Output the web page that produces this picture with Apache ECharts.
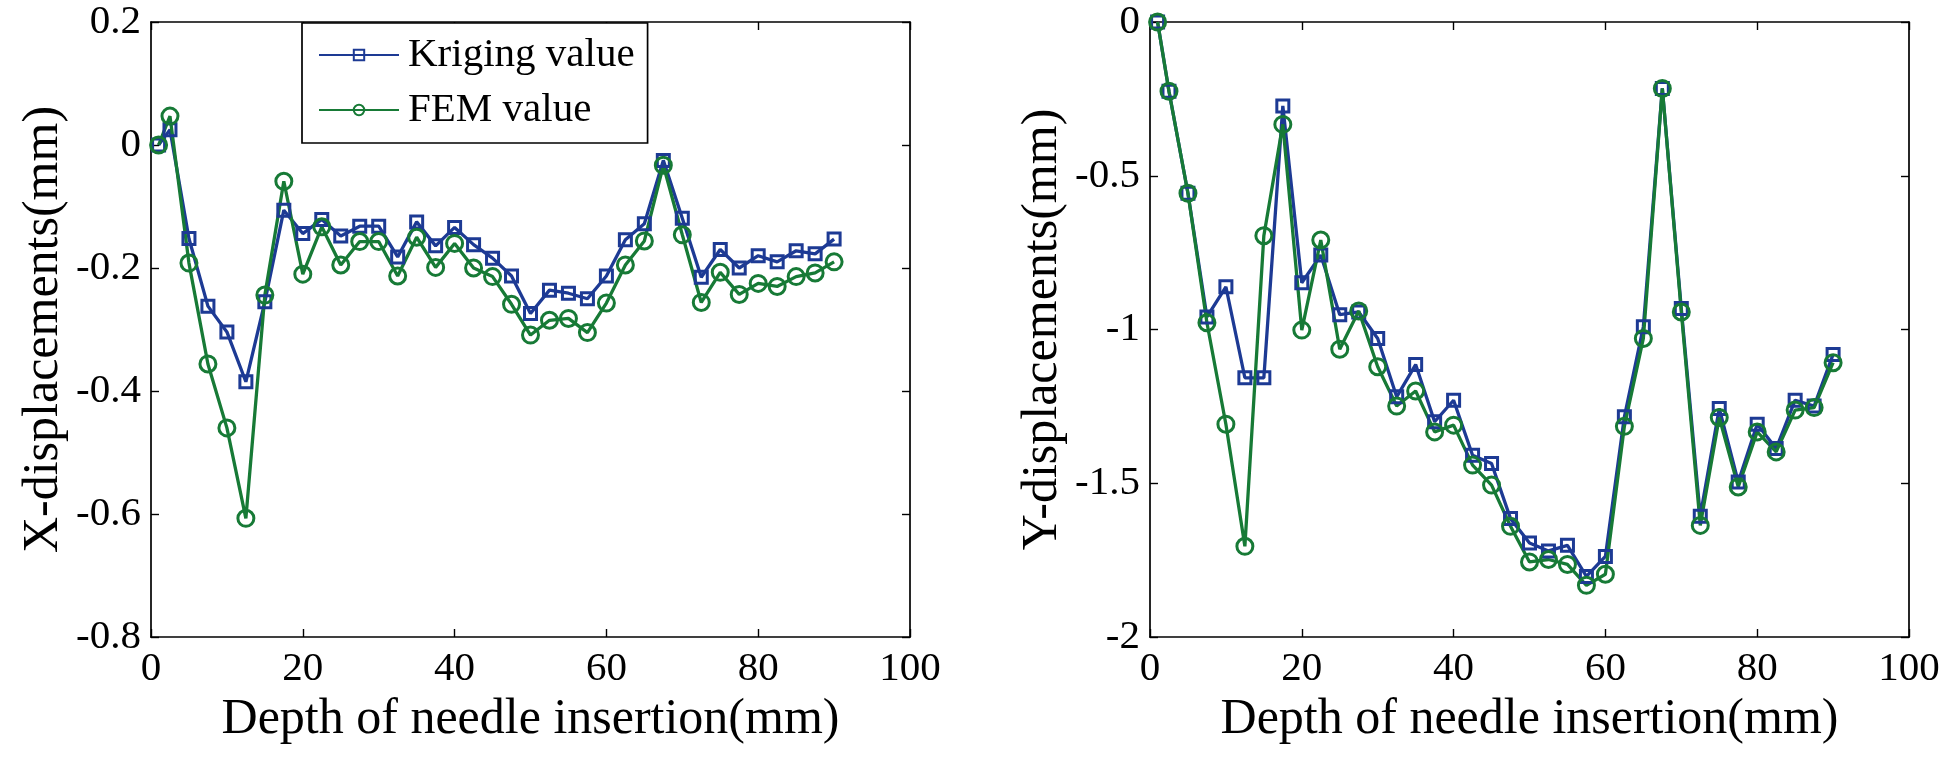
<!DOCTYPE html>
<html>
<head>
<meta charset="utf-8">
<script src="https://cdn.jsdelivr.net/npm/echarts@6/dist/echarts.min.js"></script>
<style>
html,body{margin:0;padding:0;background:#fff;}
#chart{width:1960px;height:765px;}
</style>
</head>
<body>
<div id="chart"></div>
<script>
// ---- data ----
var depth = [1,2.5,5,7.5,10,12.5,15,17.5,20,22.5,25,27.5,30,32.5,35,37.5,40,42.5,45,47.5,50,52.5,55,57.5,60,62.5,65,67.5,70,72.5,75,77.5,80,82.5,85,87.5,90];

var xKriging = [0,0.025,-0.152,-0.262,-0.304,-0.385,-0.255,-0.106,-0.144,-0.121,-0.148,-0.132,-0.132,-0.182,-0.125,-0.164,-0.134,-0.162,-0.184,-0.213,-0.274,-0.236,-0.241,-0.250,-0.213,-0.154,-0.128,-0.025,-0.119,-0.215,-0.170,-0.200,-0.180,-0.190,-0.172,-0.177,-0.153];
var xFEM = [0,0.047,-0.192,-0.356,-0.460,-0.607,-0.244,-0.059,-0.210,-0.133,-0.195,-0.157,-0.157,-0.213,-0.150,-0.199,-0.160,-0.200,-0.214,-0.259,-0.309,-0.285,-0.282,-0.305,-0.257,-0.195,-0.156,-0.033,-0.146,-0.256,-0.207,-0.243,-0.225,-0.230,-0.214,-0.208,-0.190];

var yKriging = [0,-0.225,-0.557,-0.959,-0.861,-1.157,-1.157,-0.273,-0.848,-0.758,-0.952,-0.943,-1.029,-1.219,-1.114,-1.300,-1.230,-1.409,-1.436,-1.615,-1.694,-1.720,-1.702,-1.803,-1.738,-1.284,-0.991,-0.216,-0.932,-1.607,-1.257,-1.496,-1.308,-1.387,-1.230,-1.249,-1.081];
var yFEM = [0,-0.225,-0.557,-0.978,-1.308,-1.705,-0.695,-0.333,-1.002,-0.709,-1.064,-0.940,-1.121,-1.249,-1.200,-1.333,-1.311,-1.441,-1.506,-1.640,-1.756,-1.748,-1.764,-1.832,-1.796,-1.315,-1.029,-0.216,-0.943,-1.637,-1.286,-1.512,-1.333,-1.398,-1.262,-1.254,-1.108];

var seriesNames = ['Kriging value','FEM value'];
var xAxisTitle = 'Depth of needle insertion(mm)';
var leftYTitle = 'X-displacements(mm)';
var rightYTitle = 'Y-displacements(mm)';
var xRange = {min:0, max:100, interval:20};
var leftYRange = {min:-0.8, max:0.2, interval:0.2};
var rightYRange = {min:-2, max:0, interval:0.5};

// ---- styling ----
var FONT = 'Liberation Serif';
var BLUE = '#1d3a94';
var GREEN = '#177a36';
var tickFont = 41;
var titleFont = 50;

function pairs(xs, ys){ return xs.map(function(x,i){ return [x, ys[i]]; }); }
function tickFmt(v){ return '{t|' + String(Number(Number(v).toFixed(3))) + '}'; }
var tickRich = {t:{fontFamily:FONT, fontSize:tickFont, color:'#000'}};

function axisBase(){
  return {
    axisLine:{show:true, onZero:false, lineStyle:{color:'#000', width:1.7}},
    axisTick:{show:true, inside:true, length:8, lineStyle:{color:'#000', width:1.4}},
    splitLine:{show:false}
  };
}
function xAxisMain(grid){
  return Object.assign(axisBase(), {
    type:'value', gridIndex:grid, position:'bottom',
    min:xRange.min, max:xRange.max, interval:xRange.interval,
    name:xAxisTitle, nameLocation:'middle', nameGap:57,
    nameTextStyle:{fontFamily:FONT, fontSize:titleFont, color:'#000'},
    axisLabel:{show:true, margin:12, fontFamily:FONT, fontSize:tickFont, color:'#000', formatter:tickFmt, rich:tickRich}
  });
}
function xAxisTop(grid){
  return Object.assign(axisBase(), {
    type:'value', gridIndex:grid, position:'top',
    min:xRange.min, max:xRange.max, interval:xRange.interval,
    axisLabel:{show:false}
  });
}
function yAxisMain(grid, r, title){
  return Object.assign(axisBase(), {
    type:'value', gridIndex:grid, position:'left',
    min:r.min, max:r.max, interval:r.interval,
    name:title, nameLocation:'middle', nameGap:82, nameRotate:90,
    nameTextStyle:{fontFamily:FONT, fontSize:titleFont, color:'#000'},
    axisLabel:{show:true, margin:10, fontFamily:FONT, fontSize:tickFont, color:'#000', formatter:tickFmt, rich:tickRich}
  });
}
function yAxisRight(grid, r){
  return Object.assign(axisBase(), {
    type:'value', gridIndex:grid, position:'right',
    min:r.min, max:r.max, interval:r.interval,
    axisLabel:{show:false}
  });
}
function lineSeries(name, xi, yi, data, color, symbol, size){
  return {
    type:'line', name:name, xAxisIndex:xi, yAxisIndex:yi, data:data,
    symbol:symbol, symbolSize:size, showAllSymbol:true,
    lineStyle:{color:color, width:3.3},
    itemStyle:{color:'rgba(255,255,255,0)', borderColor:color, borderWidth:3},
    emphasis:{disabled:true}
  };
}

var chart = echarts.init(document.getElementById('chart'), null, {renderer:'canvas'});
chart.setOption({
  backgroundColor:'#fff',
  animation:false,
  textStyle:{fontFamily:FONT, color:'#000'},
  grid:[
    {left:151, top:22, width:759, height:615},
    {left:1150, top:22, width:759, height:615}
  ],
  xAxis:[xAxisMain(0), xAxisTop(0), xAxisMain(1), xAxisTop(1)],
  yAxis:[yAxisMain(0, leftYRange, leftYTitle), yAxisRight(0, leftYRange), yAxisMain(1, rightYRange, rightYTitle), yAxisRight(1, rightYRange)],
  legend:{
    data:seriesNames, orient:'vertical', left:302, top:23,
    padding:[9,13,10,16], itemGap:9, itemWidth:80, itemHeight:13,
    borderColor:'#000', borderWidth:1.7, backgroundColor:'#fff',
    textStyle:{fontFamily:FONT, fontSize:41, color:'#000', lineHeight:46, padding:[0,0,0,4]}
  },
  series:[
    lineSeries(seriesNames[0], 0, 0, pairs(depth, xKriging), BLUE, 'rect', 12),
    lineSeries(seriesNames[1], 0, 0, pairs(depth, xFEM), GREEN, 'circle', 16),
    lineSeries(seriesNames[0], 2, 2, pairs(depth, yKriging), BLUE, 'rect', 12),
    lineSeries(seriesNames[1], 2, 2, pairs(depth, yFEM), GREEN, 'circle', 16)
  ]
});
</script>
</body>
</html>
